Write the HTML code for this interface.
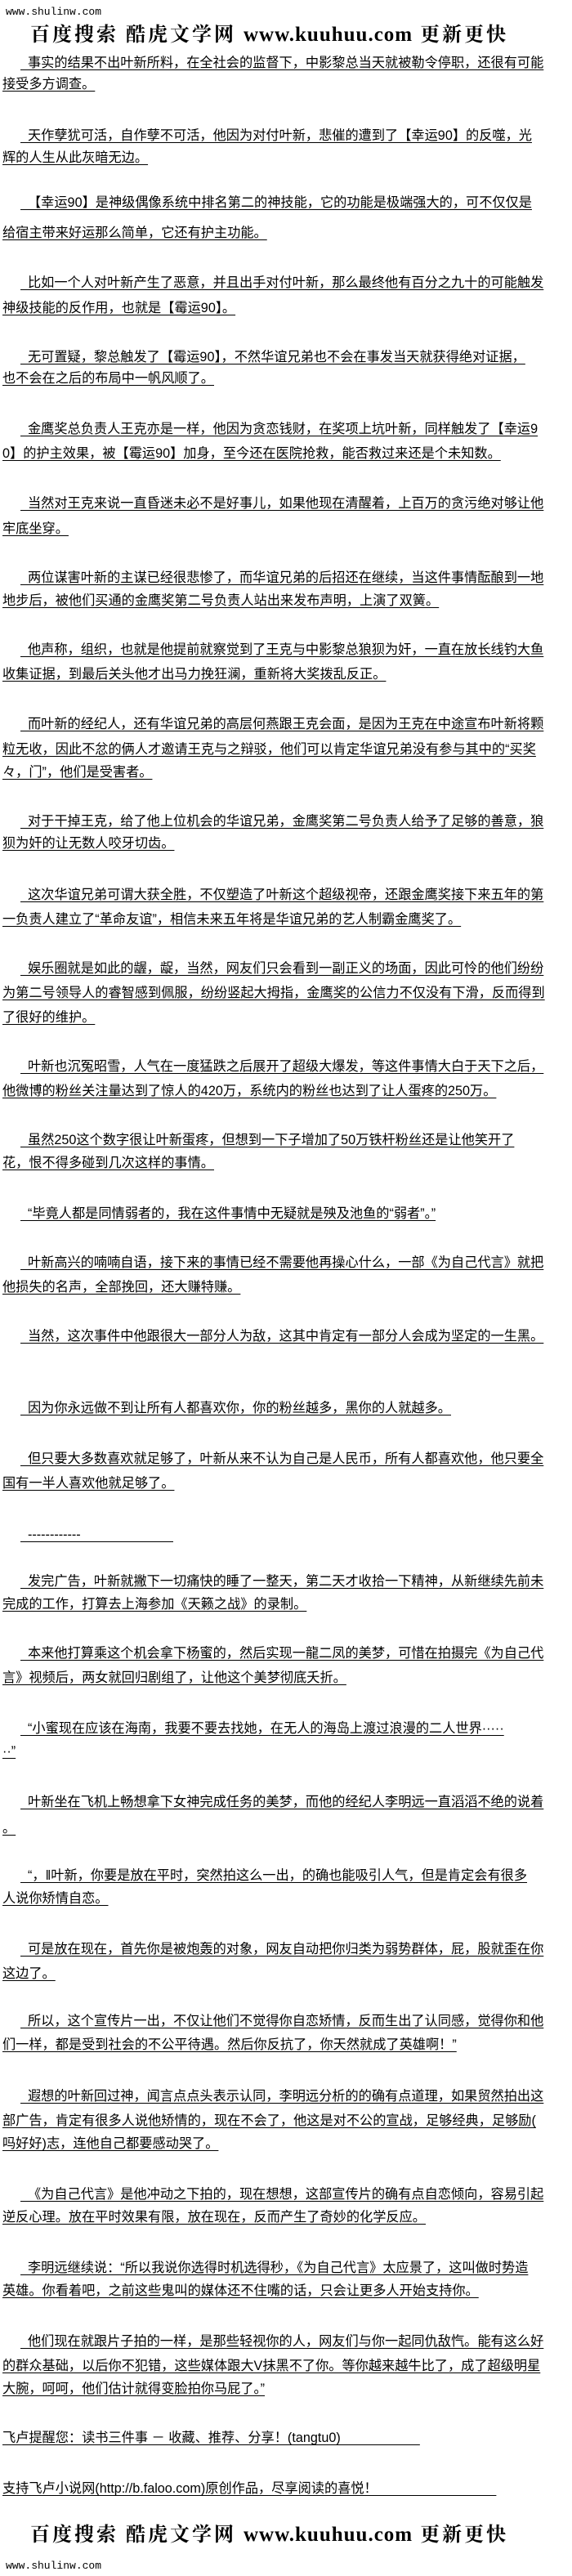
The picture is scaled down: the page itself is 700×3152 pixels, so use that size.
<!DOCTYPE html>
<html><head><meta charset="utf-8">
<style>
html,body{margin:0;padding:0;background:#fff;}
body{width:700px;height:3152px;position:relative;overflow:hidden;font-family:"Liberation Sans","Noto Sans CJK SC",sans-serif;color:#000;}
.l{position:absolute;left:3px;white-space:nowrap;font-size:16.2px;line-height:20px;text-decoration:underline;text-underline-offset:3px;}
.i{left:25px;padding-left:0;}
.i::before{content:"\00a0\00a0";}
.www{position:absolute;left:7px;font-family:"Liberation Mono",monospace;font-size:13px;line-height:16px;}
.logo{position:absolute;left:37px;width:640px;font-size:24px;letter-spacing:3px;line-height:30px;font-weight:bold;white-space:nowrap;font-family:"Liberation Serif","Noto Serif CJK SC",serif;}
.logo b{font-family:"Liberation Serif",serif;font-size:25px;letter-spacing:1px;}
</style></head><body>
<div class="www" style="top:7px">www.shulinw.com</div>
<div class="logo" style="top:28px">百度搜索 酷虎文学网 <b>www.kuuhuu.com</b> 更新更快</div>

<div class="l i" style="top:67px">事实的结果不出叶新所料，在全社会的监督下，中影黎总当天就被勒令停职，还很有可能</div>
<div class="l" style="top:93px">接受多方调查。</div>
<div class="l i" style="top:156px">天作孽犹可活，自作孽不可活，他因为对付叶新，悲催的遭到了【幸运90】的反噬，光</div>
<div class="l" style="top:183px">辉的人生从此灰暗无边。</div>
<div class="l i" style="top:238px">【幸运90】是神级偶像系统中排名第二的神技能，它的功能是极端强大的，可不仅仅是</div>
<div class="l" style="top:275px">给宿主带来好运那么简单，它还有护主功能。</div>
<div class="l i" style="top:336px">比如一个人对叶新产生了恶意，并且出手对付叶新，那么最终他有百分之九十的可能触发</div>
<div class="l" style="top:367px">神级技能的反作用，也就是【霉运90】。</div>
<div class="l i" style="top:427px">无可置疑，黎总触发了【霉运90】，不然华谊兄弟也不会在事发当天就获得绝对证据，</div>
<div class="l" style="top:453px">也不会在之后的布局中一帆风顺了。</div>
<div class="l i" style="top:515px">金鹰奖总负责人王克亦是一样，他因为贪恋钱财，在奖项上坑叶新，同样触发了【幸运9</div>
<div class="l" style="top:545px">0】的护主效果，被【霉运90】加身，至今还在医院抢救，能否救过来还是个未知数。</div>
<div class="l i" style="top:606px">当然对王克来说一直昏迷未必不是好事儿，如果他现在清醒着，上百万的贪污绝对够让他</div>
<div class="l" style="top:637px">牢底坐穿。</div>
<div class="l i" style="top:697px">两位谋害叶新的主谋已经很悲惨了，而华谊兄弟的后招还在继续，当这件事情酝酿到一地</div>
<div class="l" style="top:725px">地步后，被他们买通的金鹰奖第二号负责人站出来发布声明，上演了双簧。</div>
<div class="l i" style="top:785px">他声称，组织，也就是他提前就察觉到了王克与中影黎总狼狈为奸，一直在放长线钓大鱼</div>
<div class="l" style="top:815px">收集证据，到最后关头他才出马力挽狂澜，重新将大奖拨乱反正。</div>
<div class="l i" style="top:876px">而叶新的经纪人，还有华谊兄弟的高层何燕跟王克会面，是因为王克在中途宣布叶新将颗</div>
<div class="l" style="top:907px">粒无收，因此不忿的俩人才邀请王克与之辩驳，他们可以肯定华谊兄弟没有参与其中的“买奖</div>
<div class="l" style="top:935px">々，门”，他们是受害者。</div>
<div class="l i" style="top:995px">对于干掉王克，给了他上位机会的华谊兄弟，金鹰奖第二号负责人给予了足够的善意，狼</div>
<div class="l" style="top:1022px">狈为奸的让无数人咬牙切齿。</div>
<div class="l i" style="top:1085px">这次华谊兄弟可谓大获全胜，不仅塑造了叶新这个超级视帝，还跟金鹰奖接下来五年的第</div>
<div class="l" style="top:1115px">一负责人建立了“革命友谊”，相信未来五年将是华谊兄弟的艺人制霸金鹰奖了。</div>
<div class="l i" style="top:1175px">娱乐圈就是如此的龌，龊，当然，网友们只会看到一副正义的场面，因此可怜的他们纷纷</div>
<div class="l" style="top:1205px">为第二号领导人的睿智感到佩服，纷纷竖起大拇指，金鹰奖的公信力不仅没有下滑，反而得到</div>
<div class="l" style="top:1235px">了很好的维护。</div>
<div class="l i" style="top:1295px">叶新也沉冤昭雪，人气在一度猛跌之后展开了超级大爆发，等这件事情大白于天下之后，</div>
<div class="l" style="top:1325px">他微博的粉丝关注量达到了惊人的420万，系统内的粉丝也达到了让人蛋疼的250万。</div>
<div class="l i" style="top:1385px">虽然250这个数字很让叶新蛋疼，但想到一下子增加了50万铁杆粉丝还是让他笑开了</div>
<div class="l" style="top:1413px">花，恨不得多碰到几次这样的事情。</div>
<div class="l i" style="top:1475px">“毕竟人都是同情弱者的，我在这件事情中无疑就是殃及池鱼的“弱者”。”</div>
<div class="l i" style="top:1535px">叶新高兴的喃喃自语，接下来的事情已经不需要他再操心什么，一部《为自己代言》就把</div>
<div class="l" style="top:1565px">他损失的名声，全部挽回，还大赚特赚。</div>
<div class="l i" style="top:1625px">当然，这次事件中他跟很大一部分人为敌，这其中肯定有一部分人会成为坚定的一生黑。</div>
<div class="l i" style="top:1713px">因为你永远做不到让所有人都喜欢你，你的粉丝越多，黑你的人就越多。</div>
<div class="l i" style="top:1775px">但只要大多数喜欢就足够了，叶新从来不认为自己是人民币，所有人都喜欢他，他只要全</div>
<div class="l" style="top:1805px">国有一半人喜欢他就足够了。</div>
<div class="l i" style="top:1868px">------------　　　　　　　</div>
<div class="l i" style="top:1925px">发完广告，叶新就撇下一切痛快的睡了一整天，第二天才收拾一下精神，从新继续先前未</div>
<div class="l" style="top:1953px">完成的工作，打算去上海参加《天籁之战》的录制。</div>
<div class="l i" style="top:2013px">本来他打算乘这个机会拿下杨蜜的，然后实现一龍二凤的美梦，可惜在拍摄完《为自己代</div>
<div class="l" style="top:2043px">言》视频后，两女就回归剧组了，让他这个美梦彻底夭折。</div>
<div class="l i" style="top:2105px">“小蜜现在应该在海南，我要不要去找她，在无人的海岛上渡过浪漫的二人世界·····</div>
<div class="l" style="top:2133px">··”</div>
<div class="l i" style="top:2195px">叶新坐在飞机上畅想拿下女神完成任务的美梦，而他的经纪人李明远一直滔滔不绝的说着</div>
<div class="l" style="top:2227px">。</div>
<div class="l i" style="top:2285px">“，‖叶新，你要是放在平时，突然拍这么一出，的确也能吸引人气，但是肯定会有很多</div>
<div class="l" style="top:2313px">人说你矫情自恋。</div>
<div class="l i" style="top:2375px">可是放在现在，首先你是被炮轰的对象，网友自动把你归类为弱势群体，屁，股就歪在你</div>
<div class="l" style="top:2405px">这边了。</div>
<div class="l i" style="top:2463px">所以，这个宣传片一出，不仅让他们不觉得你自恋矫情，反而生出了认同感，觉得你和他</div>
<div class="l" style="top:2492px">们一样，都是受到社会的不公平待遇。然后你反抗了，你天然就成了英雄啊！”</div>
<div class="l i" style="top:2555px">遐想的叶新回过神，闻言点点头表示认同，李明远分析的的确有点道理，如果贸然拍出这</div>
<div class="l" style="top:2585px">部广告，肯定有很多人说他矫情的，现在不会了，他这是对不公的宣战，足够经典，足够励(</div>
<div class="l" style="top:2613px">吗好好)志，连他自己都要感动哭了。</div>
<div class="l i" style="top:2675px">《为自己代言》是他冲动之下拍的，现在想想，这部宣传片的确有点自恋倾向，容易引起</div>
<div class="l" style="top:2703px">逆反心理。放在平时效果有限，放在现在，反而产生了奇妙的化学反应。</div>
<div class="l i" style="top:2765px">李明远继续说：“所以我说你选得时机选得秒，《为自己代言》太应景了，这叫做时势造</div>
<div class="l" style="top:2793px">英雄。你看着吧，之前这些鬼叫的媒体还不住嘴的话，只会让更多人开始支持你。</div>
<div class="l i" style="top:2855px">他们现在就跟片子拍的一样，是那些轻视你的人，网友们与你一起同仇敌忾。能有这么好</div>
<div class="l" style="top:2885px">的群众基础，以后你不犯错，这些媒体跟大V抹黑不了你。等你越来越牛比了，成了超级明星</div>
<div class="l" style="top:2913px">大腕，呵呵，他们估计就得变脸拍你马屁了。”</div>
<div class="l" style="top:2973px">飞卢提醒您：读书三件事 － 收藏、推荐、分享！(tangtu0)　　　　　　</div>
<div class="l" style="top:3035px">支持飞卢小说网(http://b.faloo.com)原创作品，尽享阅读的喜悦！　　　　　　　　　</div>

<div class="logo" style="top:3087px">百度搜索 酷虎文学网 <b>www.kuuhuu.com</b> 更新更快</div>
<div class="www" style="top:3132px">www.shulinw.com</div>
</body></html>
